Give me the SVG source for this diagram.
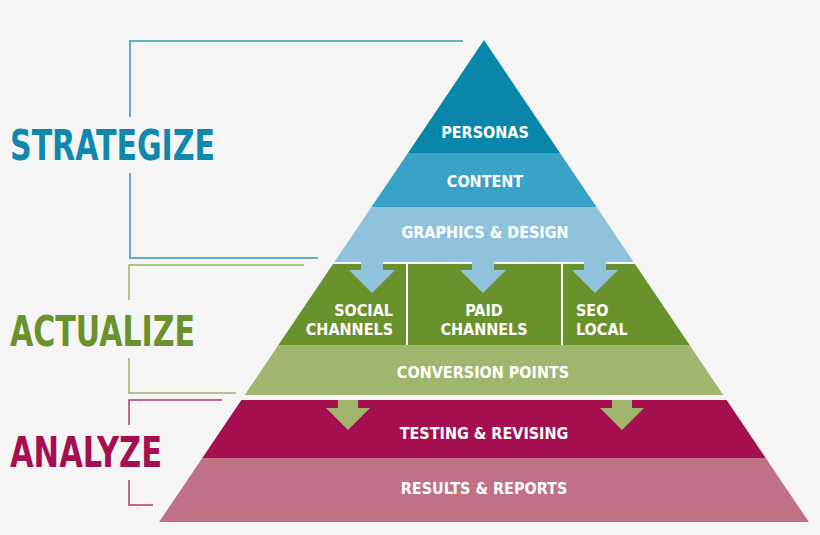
<svg xmlns="http://www.w3.org/2000/svg" width="820" height="535" viewBox="0 0 820 535">
<style>
.lbl{font-family:"Liberation Sans Narrow","DejaVu Sans Condensed","Liberation Sans",sans-serif;font-weight:bold;font-size:16px;fill:#fff;text-anchor:middle}
.big{font-family:"Liberation Sans Narrow","DejaVu Sans Condensed","Liberation Sans",sans-serif;font-weight:bold;font-size:42px}
.br{fill:none;stroke-width:1.5}
</style>
<rect width="820" height="535" fill="#f5f5f5"/>
<g id="brackets">
<path class="br" stroke="#3596b8" d="M463,41H130V117M130,173V258H318"/>
<path class="br" stroke="#9ab866" d="M304,265H129V300M129,358V393H236"/>
<path class="br" stroke="#b8386f" d="M222,400H129V425M129,480V505H153"/>
</g>
<g id="labels">
<text class="big" x="10" y="160" fill="#0f88ad" textLength="205" lengthAdjust="spacingAndGlyphs">STRATEGIZE</text>
<text class="big" x="10" y="346" fill="#6a922c" textLength="185" lengthAdjust="spacingAndGlyphs">ACTUALIZE</text>
<text class="big" x="10" y="467" fill="#a50f50" textLength="152" lengthAdjust="spacingAndGlyphs">ANALYZE</text>
</g>
<g id="personas"><polygon points="484,40 560,153 408,153" fill="#0a86aa"/><text class="lbl" x="485" y="138">PERSONAS</text></g>
<g id="content"><polygon points="408,153 560,153 596.6,207 371.4,207" fill="#38a3c6"/><text class="lbl" x="485" y="187">CONTENT</text></g>
<g id="graphics"><polygon points="371.4,207 596.6,207 633.6,262 334.4,262" fill="#8fc3dc"/><text class="lbl" x="485" y="238">GRAPHICS &amp; DESIGN</text></g>
<g id="channels"><polygon points="333,264 635,264 689.6,345 278.4,345" fill="#6a922c"/>
<path d="M407,264V345M562,264V345" stroke="#fff" stroke-width="2"/>
<text class="lbl" x="393" y="316" text-anchor="end" style="text-anchor:end">SOCIAL</text>
<text class="lbl" x="393" y="335" style="text-anchor:end">CHANNELS</text>
<text class="lbl" x="484" y="316">PAID</text>
<text class="lbl" x="484" y="335">CHANNELS</text>
<text class="lbl" x="576" y="316" style="text-anchor:start">SEO</text>
<text class="lbl" x="576" y="335" style="text-anchor:start">LOCAL</text>
</g>
<g id="conversion"><polygon points="278.4,345 689.6,345 723.3,395 244.7,395" fill="#a0b66f"/><text class="lbl" x="483" y="378">CONVERSION POINTS</text></g>
<g id="testing"><polygon points="241.4,400 726.6,400 765.7,458 202.3,458" fill="#a50f50"/><text class="lbl" x="484" y="439">TESTING &amp; REVISING</text></g>
<g id="results"><polygon points="202.3,458 765.7,458 808.9,522 159.1,522" fill="#c07185"/><text class="lbl" x="484" y="494">RESULTS &amp; REPORTS</text></g>
<g id="connectors">
<defs>
<path id="ab" d="M-11,0H11V15H23L0,38L-23,15H-11Z"/>
<path id="ag" d="M-10,0H10V8H22L0,30L-22,8H-10Z"/>
</defs>
<use href="#ab" x="372" y="255" fill="#8fc3dc"/>
<use href="#ab" x="483" y="255" fill="#8fc3dc"/>
<use href="#ab" x="595" y="255" fill="#8fc3dc"/>
<use href="#ag" x="348" y="400" fill="#a0b66f"/>
<use href="#ag" x="622" y="400" fill="#a0b66f"/>
</g>
</svg>
